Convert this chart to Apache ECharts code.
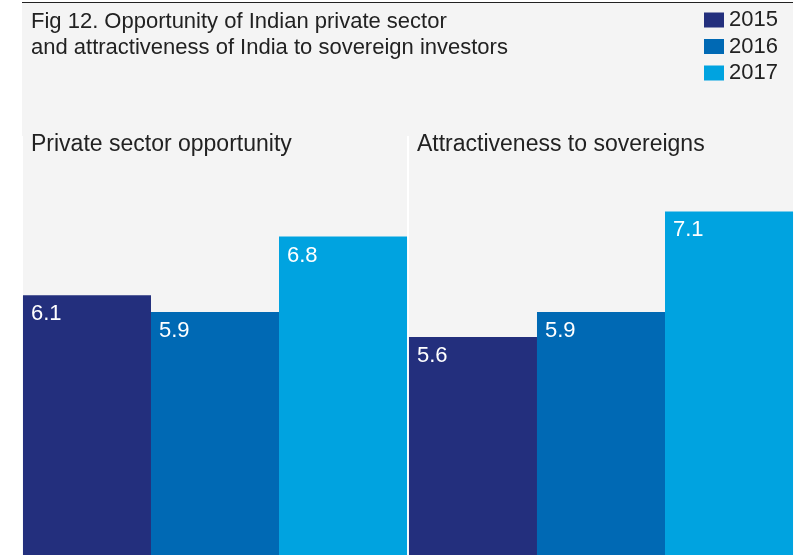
<!DOCTYPE html>
<html>
<head>
    <meta charset="utf-8">
    <title>Fig 12</title>
    <script src="https://cdn.jsdelivr.net/npm/echarts@6/dist/echarts.min.js"></script>
    <style>
        body { margin: 0; background: #fff; }
        #panel { position: absolute; left: 22px; top: 2px; width: 771px; height: 553px; background: #f4f4f4; border-top: 1px solid #222; }
        #main { position: absolute; left: 0; top: 0; width: 808px; height: 555px; }
    </style>
</head>
<body>
    <div id="panel"></div>
    <div id="main"></div>

    <script type="text/javascript">
        // data
        var categories = ['Private sector opportunity', 'Attractiveness to sovereigns'];
        var years = ['2015', '2016', '2017'];
        var values2015 = [6.1, 5.6];
        var values2016 = [5.9, 5.9];
        var values2017 = [6.8, 7.1];
        var colors = ['#232f7d', '#0069b4', '#00a3e0'];

        var font = 'Liberation Sans, Arial, sans-serif';
        var myChart = echarts.init(document.getElementById('main'));

        function makeSeries(name, data, color) {
            return {
                name: name,
                type: 'bar',
                data: data,
                barGap: '0%',
                barCategoryGap: '0.5%',
                itemStyle: { color: color },
                label: {
                    show: true,
                    position: 'insideTopLeft',
                    distance: 7,
                    offset: [1, 1],
                    color: '#fff',
                    fontSize: 22,
                    fontFamily: font
                }
            };
        }

        myChart.setOption({
            animation: false,
            title: [
                {
                    text: 'Fig 12. Opportunity of Indian private sector\nand attractiveness of India to sovereign investors',
                    left: 31,
                    top: 9,
                    padding: 0,
                    textStyle: { color: '#222', fontSize: 22, fontWeight: 'normal', fontFamily: font, lineHeight: 26 }
                },
                {
                    text: categories[0],
                    left: 31,
                    top: 133,
                    padding: 0,
                    textStyle: { color: '#222', fontSize: 23, fontWeight: 'normal', fontFamily: font }
                },
                {
                    text: categories[1],
                    left: 417,
                    top: 133,
                    padding: 0,
                    textStyle: { color: '#222', fontSize: 23, fontWeight: 'normal', fontFamily: font }
                }
            ],
            legend: {
                orient: 'vertical',
                left: 704,
                top: 9,
                padding: 0,
                itemWidth: 20,
                itemHeight: 15,
                itemGap: 4.5,
                icon: 'rect',
                data: years,
                textStyle: { color: '#222', fontSize: 22, fontFamily: font }
            },
            grid: {
                left: 22,
                right: 14,
                top: 136,
                bottom: 0
            },
            xAxis: {
                type: 'category',
                data: categories,
                axisLine: { show: false },
                axisTick: { show: false },
                axisLabel: { show: false },
                splitLine: { show: true, lineStyle: { color: '#fff', width: 2 } }
            },
            yAxis: {
                type: 'value',
                min: 3,
                max: 8,
                show: false,
                splitLine: { show: false }
            },
            series: [
                makeSeries(years[0], values2015, colors[0]),
                makeSeries(years[1], values2016, colors[1]),
                makeSeries(years[2], values2017, colors[2])
            ]
        });
    </script>
</body>
</html>
